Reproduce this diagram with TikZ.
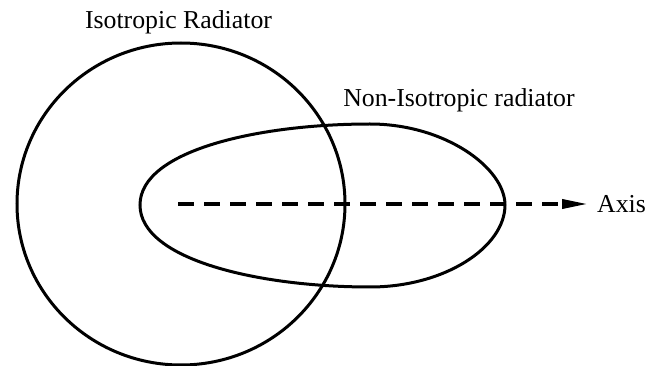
\documentclass[tikz,border=0pt]{standalone}
\usepackage{fontspec}
\setmainfont{Liberation Serif}
\usetikzlibrary{arrows.meta}
\tikzset{
  curveline/.style={line width=3pt},
  axisline/.style={line width=3.6pt, dash pattern=on 16pt off 10pt, -{Triangle[length=26pt,width=9pt]}},
  lbl/.style={inner sep=0pt, font=\fontsize{25.8}{30}\selectfont}
}
\begin{document}
\begin{tikzpicture}[x=1pt,y=-1pt]
\useasboundingbox (0,0) rectangle (646,366);
% isotropic radiator
\draw[curveline] (181,204) ellipse [x radius=164, y radius=161];
% non-isotropic radiator (egg shape)
\draw[curveline] (140,205)
  .. controls (140,150) and (260,124) .. (370,124)
  .. controls (445,124) and (505,168) .. (505,205)
  .. controls (505,247) and (445,287) .. (370,287)
  .. controls (260,287) and (140,260) .. (140,205) -- cycle;
% axis
\coordinate (axs) at (178,204);
\coordinate (axe) at (588,204);
\draw[axisline] (axs) -- (axe);
\node[lbl, anchor=base west] (axis) at (597,212.5) {Axis};
\node[lbl, anchor=base] (iso) at (178.5,29) {Isotropic Radiator};
\node[lbl, anchor=base] (noniso) at (459,107) {Non-Isotropic radiator};
\end{tikzpicture}
\end{document}
